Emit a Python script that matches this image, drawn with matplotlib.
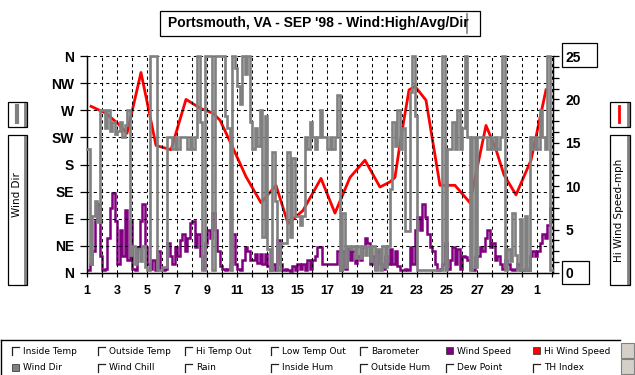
import matplotlib
matplotlib.use('Agg')
import matplotlib.pyplot as plt
from matplotlib.patches import Rectangle
from matplotlib.lines import Line2D
import numpy as np

# ---------------- data ----------------
title = "Portsmouth, VA - SEP '98 - Wind:High/Avg/Dir"
dir_labels = ['N', 'NE', 'E', 'SE', 'S', 'SW', 'W', 'NW', 'N']
day_labels = ['1', '3', '5', '7', '9', '11', '13', '15', '17', '19', '21',
              '23', '25', '27', '29', '1']
samples_per_day = 6

# wind direction (degrees), 4-hourly samples, day 1 .. day 31
wind_dir = [
    205, 15, 95, 120, 85, 270,
    270, 240, 270, 235, 250, 230,
    235, 250, 225, 245, 270, 30,
    45, 15, 40, 20, 45, 10,
    5, 360, 360, 360, 5, 5,
    10, 10, 225, 225, 205, 225,
    205, 225, 225, 225, 205, 225,
    205, 225, 360, 250, 5, 360,
    360, 360, 5, 360, 360, 360,
    360, 260, 240, 5, 360, 340,
    310, 280, 360, 330, 360, 250,
    205, 240, 210, 270, 60, 260,
    40, 5, 200, 120, 5, 50,
    50, 50, 200, 60, 190, 95,
    95, 80, 95, 225, 205, 250,
    225, 205, 225, 270, 225, 225,
    205, 225, 205, 225, 295, 5,
    100, 10, 45, 40, 45, 25,
    45, 25, 45, 30, 45, 20,
    45, 5, 40, 5, 45, 10,
    45, 140, 250, 210, 270, 205,
    240, 70, 70, 300, 360, 260,
    5, 5, 5, 5, 5, 5,
    5, 5, 5, 5, 360, 5,
    205, 205, 250, 205, 270, 205,
    240, 360, 225, 5, 225, 10,
    225, 225, 225, 225, 205, 225,
    205, 225, 205, 225, 360, 5,
    40, 20, 100, 30, 5, 90,
    5, 95, 5, 225, 205, 225,
    205, 270, 225, 205, 360, 5,
]

# average wind speed (mph), 4-hourly samples
wind_speed = [
    0.3, 1.0, 2.5, 6.0, 8.0, 2.0,
    0.3, 0.5, 4.0, 7.5, 9.2, 6.0,
    1.0, 5.0, 2.0, 7.3, 1.5, 6.0,
    0.5, 0.3, 3.0, 6.0, 8.0, 3.0,
    1.0, 0.5, 1.5, 0.3, 2.5, 0.5,
    0.3, 0.5, 3.5, 2.0, 1.0, 3.0,
    2.0, 3.8, 4.5, 2.5, 4.0, 5.8,
    6.0, 3.0, 4.5, 2.0, 0.5, 3.5,
    5.0, 4.0, 6.9, 5.0, 2.5, 0.8,
    0.5, 0.3, 0.5, 1.0, 4.5, 1.0,
    0.5, 0.3, 1.5, 3.0, 2.5, 1.5,
    1.5, 2.2, 1.2, 2.2, 1.0, 2.2,
    0.8, 0.3, 1.0, 0.3, 3.8, 1.0,
    0.3, 0.5, 0.3, 0.2, 0.8, 0.3,
    1.0, 0.5, 1.0, 0.3, 1.5, 0.5,
    1.5, 2.0, 3.0, 3.0, 1.0, 1.0,
    1.0, 1.0, 1.0, 1.0, 2.5, 0.3,
    2.5, 0.5, 2.8, 1.5, 2.5, 1.2,
    2.0, 1.5, 3.0, 4.0, 3.5, 1.0,
    2.0, 0.5, 2.5, 1.0, 0.5, 2.0,
    1.0, 2.8, 1.0, 2.5, 0.8, 0.3,
    0.3, 0.5, 0.3, 3.0, 1.0, 5.0,
    6.5, 5.0, 8.0, 6.5, 4.5, 3.0,
    2.5, 1.0, 0.3, 0.5, 1.0, 3.5,
    0.5, 1.5, 3.0, 1.0, 2.8, 0.5,
    2.0, 1.8, 1.5, 0.5, 0.3, 1.8,
    2.0, 3.0, 2.5, 4.0, 5.0, 3.0,
    3.5, 1.5, 2.0, 1.0, 0.5, 1.5,
    1.0, 0.5, 0.3, 0.5, 1.0, 0.3,
    0.3, 0.5, 0.3, 2.0, 2.5, 2.0,
    2.5, 3.5, 4.5, 4.0, 5.5, 7.5,
]

# high wind speed (mph) and time of occurrence (day number)
hi_time = [1.27, 2.27, 3.07, 3.67, 4.60, 5.60, 6.60, 7.60, 8.53, 9.40, 9.87,
           10.60, 11.60, 12.60, 13.60, 14.40, 15.40, 16.60, 17.53, 18.53,
           19.53, 20.53, 21.20, 21.53, 21.93, 22.47, 22.87, 23.60, 24.53,
           25.53, 26.53, 27.60, 28.27, 28.80, 29.60, 30.60, 31.60]
hi_speed = [19.2, 18.4, 17.2, 16.1, 23.1, 14.7, 14.2, 20.0, 19.0, 18.4, 17.6,
            14.9, 11.1, 8.1, 10.1, 5.7, 7.2, 10.9, 6.9, 11.0,
            13.0, 9.9, 10.5, 11.0, 15.6, 21.1, 21.5, 19.9, 10.1,
            10.1, 8.1, 17.0, 14.2, 11.3, 9.0, 13.0, 21.1]

legend_row1 = ['Inside Temp', 'Outside Temp', 'Hi Temp Out', 'Low Temp Out',
               'Barometer', 'Wind Speed', 'Hi Wind Speed']
legend_row2 = ['Wind Dir', 'Wind Chill', 'Rain', 'Inside Hum',
               'Outside Hum', 'Dew Point', 'TH Index']
legend_fill1 = [None, None, None, None, None, '#800080', '#ff0000']
legend_fill2 = ['#808080', None, None, None, None, None, None]

# ---------------- figure ----------------
W, H = 635, 375
fig = plt.figure(figsize=(W / 100, H / 100), dpi=100)
fig.patch.set_facecolor('white')

def fx(x):
    return x / W

def fy(y):
    return 1 - y / H

L, R, T, B = 87, 553, 56, 273
ax = fig.add_axes([fx(L), fy(B), fx(R) - fx(L), fy(T) - fy(B)])
ax2 = ax.twinx()
ax.set_zorder(ax2.get_zorder() + 1)
ax.patch.set_visible(False)

t = 1 + np.arange(len(wind_dir)) / samples_per_day
t_ext = np.append(t, t[-1] + 1 / samples_per_day)
dir_ext = np.append(wind_dir, wind_dir[-1])
spd_ext = np.append(wind_speed, wind_speed[-1])

XMAX = 1 + (R - L) / 15.0
ax.set_xlim(1, XMAX)
ax.set_ylim(0, 360)
ax2.set_ylim(0, 25)

# series
ax2.plot(t_ext, spd_ext, drawstyle='steps-post', color='#800080', lw=1.8,
         solid_joinstyle='miter')
ax2.plot(hi_time, hi_speed, color='#ff0000', lw=2.0)
ax.plot(t_ext, dir_ext, drawstyle='steps-post', color='#808080', lw=1.9,
        clip_on=False, solid_joinstyle='miter', zorder=3)

# grid
ax.set_yticks(np.arange(0, 361, 45))
ax.set_yticklabels(dir_labels)
ax.set_xticks(np.arange(1, 32, 2))
ax.set_xticklabels(day_labels)
ax.set_xticks(np.arange(1, 33, 1), minor=True)
ax.set_axisbelow(True)
ax.grid(True, which='both', color='black', lw=0.75,
        linestyle=(0, (3, 3)))

for sp in ['top']:
    ax.spines[sp].set_visible(False)
    ax2.spines[sp].set_visible(False)
for a in (ax, ax2):
    for sp in ['left', 'right', 'bottom']:
        a.spines[sp].set_linewidth(0.9)

ax.tick_params(axis='y', which='major', length=5, width=0.9, pad=4.5,
               labelsize=10)
ax.tick_params(axis='x', which='both', length=3, width=0.9, pad=6,
               labelsize=9)
for lab in ax.get_yticklabels() + ax.get_xticklabels():
    lab.set_fontfamily('Liberation Sans')
    lab.set_fontweight('bold')

ax2.set_yticks(np.arange(0, 26, 5))
ax2.set_yticks(np.arange(0, 25.01, 1.25), minor=True)
ax2.tick_params(axis='y', which='both', length=4, width=0.9, pad=5,
                labelsize=10)
for lab in ax2.get_yticklabels():
    lab.set_fontfamily('Liberation Sans')
    lab.set_fontweight('bold')

# boxes around the 25 and 0 labels
def box(x0, y0, x1, y1, lw=0.9, fc='none', ec='black', z=5):
    fig.patches.append(Rectangle((fx(x0), fy(y1)), fx(x1) - fx(x0),
                                 fy(y0) - fy(y1), transform=fig.transFigure,
                                 fill=fc != 'none', facecolor=fc,
                                 edgecolor=ec, lw=lw, zorder=z))

box(562, 43, 597, 67)
box(562, 261, 589, 284)

# title box
box(160, 11, 480, 36)
fig.text(fx(318), fy(23.5), title, ha='center', va='center', fontsize=10,
         fontfamily='Liberation Sans', fontweight='bold')
fig.lines.append(Line2D([fx(467), fx(467)], [fy(14), fy(33)],
                        transform=fig.transFigure, color='#808080', lw=1.2))

# side widgets (legend samples + axis titles)
def widget(x0, x1, y0, y1):
    box(x0, y0, x1, y1)
    fig.lines.append(Line2D([fx(x1 - 2), fx(x1 - 2)], [fy(y0 + 2), fy(y1 - 1)],
                            transform=fig.transFigure, color='#808080', lw=2))

widget(8, 27, 102, 127)
widget(8, 27, 135, 285)
widget(610, 630, 102, 127)
widget(610, 630, 135, 285)
fig.lines.append(Line2D([fx(17), fx(17)], [fy(106), fy(122)],
                        transform=fig.transFigure, color='#808080', lw=3))
fig.lines.append(Line2D([fx(619), fx(619)], [fy(106), fy(122)],
                        transform=fig.transFigure, color='#ff0000', lw=2))
fig.text(fx(17), fy(195), 'Wind Dir', rotation=90, ha='center', va='center',
         fontsize=7.5, fontfamily='DejaVu Sans')
fig.text(fx(619.5), fy(210), 'Hi Wind Speed-mph', rotation=90, ha='center',
         va='center', fontsize=7.5, fontfamily='DejaVu Sans')

# bottom legend panel
fig.lines.append(Line2D([fx(1), fx(620)], [fy(340), fy(340)],
                        transform=fig.transFigure, color='black', lw=1))
fig.lines.append(Line2D([fx(1), fx(1)], [fy(340), fy(375)],
                        transform=fig.transFigure, color='black', lw=1))
col_x = [12, 98, 185, 271, 360, 446, 533]
for row_y, names, fills in ((351, legend_row1, legend_fill1),
                            (368, legend_row2, legend_fill2)):
    for cx, name, fc in zip(col_x, names, fills):
        if fc is None:
            fig.lines.append(Line2D([fx(cx), fx(cx), fx(cx + 7)],
                                    [fy(row_y + 4), fy(row_y - 4),
                                     fy(row_y - 4)],
                                    transform=fig.transFigure,
                                    color='#202020', lw=0.9))
        else:
            box(cx, row_y - 4, cx + 7, row_y + 3, fc=fc, ec='#404040', lw=0.6)
        fig.text(fx(cx + 11), fy(row_y), name, ha='left', va='center',
                 fontsize=6.5, fontfamily='DejaVu Sans')

# scroll buttons
box(621, 343, 634, 358, fc='#d4d0c8', ec='#808080', lw=0.8)
box(621, 359, 634, 374, fc='#d4d0c8', ec='#808080', lw=0.8)
fig.text(fx(627.5), fy(350.5), '\u25b2', ha='center', va='center',
         fontsize=5, color='#404040')
fig.text(fx(627.5), fy(366.5), '\u25bc', ha='center', va='center',
         fontsize=5, color='#404040')

fig.savefig('out.png', dpi=100, facecolor='white')
